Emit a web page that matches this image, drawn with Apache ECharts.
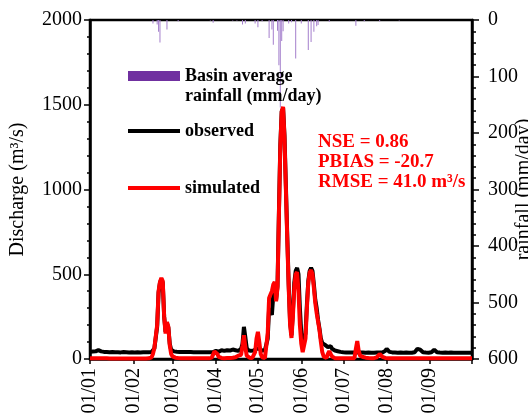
<!DOCTYPE html>
<html>
<head>
<meta charset="utf-8">
<script src="https://cdn.jsdelivr.net/npm/echarts@6/dist/echarts.min.js"></script>
<style>
html, body { margin: 0; padding: 0; background: #fff; }
#main { width: 528px; height: 414px; }
</style>
</head>
<body>
<div id="main"></div>
<script>
// daily discharge, 01/01 .. 01/10 (m3/s)
var observed = [
	42,45,44,43,45,50,52,48,45,43,
	42,42,41,41,40,40,41,40,40,40,
	40,40,39,40,41,40,40,39,39,40,
	40,40,39,39,40,40,39,39,40,40,
	40,39,40,40,41,45,62,72,190,390,
	450,470,450,250,160,210,185,90,55,48,
	45,44,43,43,42,42,42,41,41,41,
	42,41,41,40,40,41,40,40,40,41,
	40,40,40,39,40,40,40,41,41,44,
	48,45,43,45,52,55,48,50,52,55,
	50,48,56,58,52,50,48,50,60,90,
	190,130,65,52,50,48,47,50,55,62,
	70,60,52,50,48,52,55,120,300,290,
	260,380,440,350,430,860,1260,1460,1480,1320,
	1020,720,440,220,140,280,450,520,537,500,
	300,150,100,94,150,320,460,520,537,520,
	440,350,300,230,180,120,94,85,83,75,
	70,80,75,60,55,50,48,46,44,42,
	41,40,40,39,40,39,39,38,38,38,
	39,40,39,38,38,38,37,37,38,38,
	37,37,38,37,37,38,38,39,40,38,
	40,48,60,50,42,40,39,38,38,38,
	37,37,38,37,37,37,38,38,37,37,
	37,38,40,48,60,65,55,44,40,38,
	38,37,37,38,40,48,55,48,40,38,
	38,37,37,37,38,37,37,37,38,37,
	37,37,37,38,37,37,37,37,37,37,
	37,37,37,37
];
var simulated = [
	5,5,4,4,4,4,4,4,4,4,
	4,4,4,3,3,3,3,3,3,3,
	3,3,3,3,3,3,3,3,3,3,
	3,3,3,3,3,3,3,3,3,3,
	3,3,4,5,10,30,65,70,200,400,
	455,478,460,250,150,218,190,80,30,15,
	10,8,7,6,5,5,5,4,4,4,
	4,4,4,4,4,4,4,4,4,4,
	4,4,4,4,4,4,5,8,15,45,
	53,30,12,8,6,5,5,5,6,6,
	6,6,7,8,10,12,20,15,25,80,
	140,70,20,10,8,6,6,8,40,120,
	160,100,30,10,5,5,10,150,360,380,
	400,440,455,340,420,850,1250,1460,1487,1300,
	1000,700,420,200,124,250,420,500,513,400,
	200,90,40,35,120,300,450,510,525,500,
	420,330,270,220,171,100,40,15,5,5,
	30,47,30,15,8,5,4,4,4,4,
	4,4,4,4,4,4,4,4,4,5,
	60,106,50,20,15,12,10,8,7,6,
	6,5,5,5,6,10,20,30,25,12,
	8,6,5,5,5,4,4,4,4,4,
	4,4,4,4,4,4,4,4,4,4,
	4,4,4,4,4,4,4,4,4,4,
	4,4,4,5,6,5,4,4,4,4,
	4,4,4,4,4,4,4,4,4,4,
	4,4,4,4,4,4,4,4,4,4,
	4,4,4,4
];
// [day index, mm/day], days without rain are left out
var rainfall = [
	[45,6],[48,8],[49,21],[50,40],[55,17],[63,2],[86,1],[88,5],
	[102,1],[105,1],[109,8],[111,6],[118,6],[120,13],[123,2],
	[128,32],[130,17],[131,44],[134,19],[135,80],[136,155],[137,37],[138,20],
	[142,6],[144,4],[147,68],[151,6],[156,53],[158,39],[160,21],[162,11],[163,9],
	[171,3],[190,10],[196,2],[207,2],[221,1]
];
var stats = ['NSE = 0.86', 'PBIAS = -20.7', 'RMSE = 41.0 m³/s'];

var days = [];
for (var i = 0; i < observed.length; i++) {
	var dt = new Date(Date.UTC(2001, 0, 1 + i));
	var dd = ('0' + dt.getUTCDate()).slice(-2);
	var mm = ('0' + (dt.getUTCMonth() + 1)).slice(-2);
	days.push(dd + '/' + mm);
}

var serif = 'Liberation Serif';
var legendText = { fontFamily: serif, fontWeight: 'bold', fontSize: 18, color: '#000', lineHeight: 20 };
var chart = echarts.init(document.getElementById('main'));
chart.setOption({
	animation: false,
	grid: {
		left: 90, right: 56, top: 20, bottom: 55,
		containLabel: false, outerBoundsMode: 'none',
		show: true, borderColor: '#000', borderWidth: 2.5
	},
	legend: [{
		left: 123, top: 41,
		itemWidth: 52, itemHeight: 10,
		data: [{ name: 'Basin average\nrainfall (mm/day)', icon: 'rect', itemStyle: { color: '#7030a0', opacity: 1 } }],
		formatter: function(name) { return ' \n' + name; }, // blank first line keeps "Basin average" level with the icon
		textStyle: legendText
	}, {
		left: 123, top: 116,
		itemWidth: 52, itemHeight: 4,
		data: [{ name: 'observed', icon: 'rect', itemStyle: { color: '#000' } }],
		textStyle: legendText
	}, {
		left: 123, top: 173,
		itemWidth: 52, itemHeight: 4,
		data: [{ name: 'simulated', icon: 'rect', itemStyle: { color: '#ff0000' } }],
		textStyle: legendText
	}],
	graphic: [{
		type: 'text', left: 318, top: 132,
		style: {
			text: stats.join('\n'),
			font: 'bold 19px "Liberation Serif"',
			lineHeight: 20,
			fill: '#ff0000'
		}
	}],
	xAxis: {
		type: 'category',
		data: days,
		boundaryGap: false,
		axisLine: { lineStyle: { color: '#000', width: 2.5 } },
		axisTick: {
			length: 5,
			lineStyle: { color: '#000', width: 1.5 },
			interval: function(idx, val) { return val.slice(0, 3) === '01/'; }
		},
		axisLabel: {
			rotate: 90, margin: 9,
			fontFamily: serif, fontSize: 20, color: '#000',
			interval: function(idx, val) { return val.slice(0, 3) === '01/' && val !== '01/10'; }
		},
		splitLine: { show: false }
	},
	yAxis: [{
		type: 'value',
		min: 0, max: 2000, interval: 500,
		name: 'Discharge (m³/s)',
		nameLocation: 'middle', nameGap: 62,
		nameTextStyle: { fontFamily: serif, fontSize: 20, color: '#000' },
		axisLine: { show: true, lineStyle: { color: '#000', width: 2.5 } },
		axisTick: { show: true, length: 6, lineStyle: { color: '#000', width: 1.5 } },
		minorTick: { show: true, splitNumber: 5, length: 3, lineStyle: { color: '#000', width: 1.5 } },
		axisLabel: { margin: 8, fontFamily: serif, fontSize: 20, color: '#000', formatter: function(v) { return String(v); } },
		splitLine: { show: false }
	}, {
		type: 'value',
		min: 0, max: 600, interval: 100,
		inverse: true,
		position: 'right',
		name: 'rainfall (mm/day)',
		nameLocation: 'middle', nameGap: 42, nameRotate: 90,
		nameMoveOverlap: false,
		nameTextStyle: { fontFamily: serif, fontSize: 20, color: '#000' },
		axisLine: { show: true, lineStyle: { color: '#000', width: 2.5 } },
		axisTick: { show: true, length: 7, lineStyle: { color: '#000', width: 1.5 } },
		minorTick: { show: true, splitNumber: 5, length: 4, lineStyle: { color: '#000', width: 1.5 } },
		axisLabel: { margin: 16, fontFamily: serif, fontSize: 20, color: '#000', formatter: function(v) { return String(v); } },
		splitLine: { show: false }
	}],
	series: [{
		name: 'Basin average\nrainfall (mm/day)',
		type: 'bar',
		yAxisIndex: 1,
		barWidth: 1,
		itemStyle: { color: '#a47fcc' },
		data: rainfall,
		z: 1
	}, {
		name: 'observed',
		type: 'line',
		data: observed,
		showSymbol: false,
		symbol: 'none',
		lineStyle: { color: '#000', width: 4 },
		itemStyle: { color: '#000' },
		z: 2
	}, {
		name: 'simulated',
		type: 'line',
		data: simulated,
		showSymbol: false,
		symbol: 'none',
		lineStyle: { color: '#ff0000', width: 4 },
		itemStyle: { color: '#ff0000' },
		z: 3
	}]
});
</script>
</body>
</html>
